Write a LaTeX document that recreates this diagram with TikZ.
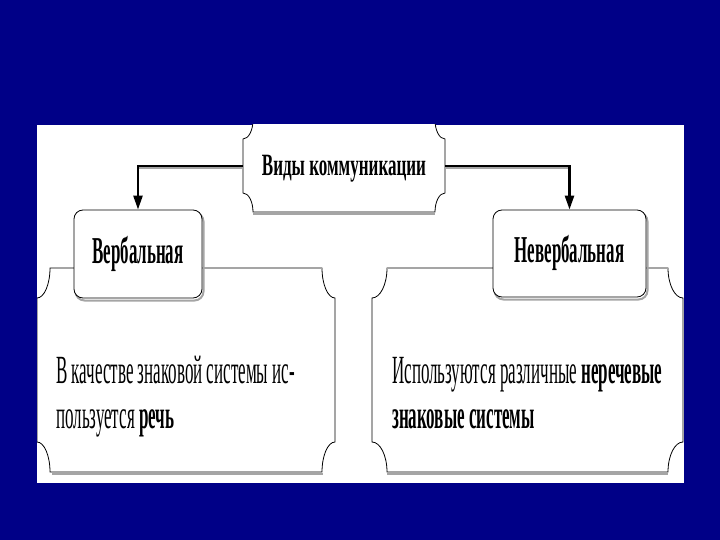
\documentclass[tikz,border=0pt]{standalone}
\usepackage{fontspec}
\setmainfont{Liberation Serif}
\newfontfamily\bodyf[FakeStretch=0.425]{Liberation Serif}
\newfontfamily\boxf[FakeStretch=0.445]{Liberation Serif}
\newfontfamily\headf[FakeStretch=0.55]{Liberation Serif}
\usetikzlibrary{arrows.meta}
\definecolor{navy}{RGB}{0,0,135}
\definecolor{shade}{RGB}{165,165,165}
% #1 options, #2 x0, #3 y0, #4 x1, #5 y1, #6 rx, #7 ry
\newcommand\plaque[7]{\draw[#1] (#2+#6,#3) -- (#4-#6,#3) .. controls (#4-#6,#3+0.55*#7) and (#4-0.55*#6,#3+#7) .. (#4,#3+#7) -- (#4,#5-#7) .. controls (#4-0.55*#6,#5-#7) and (#4-#6,#5-0.55*#7) .. (#4-#6,#5) -- (#2+#6,#5) .. controls (#2+#6,#5-0.55*#7) and (#2+0.55*#6,#5-#7) .. (#2,#5-#7) -- (#2,#3+#7) .. controls (#2+0.55*#6,#3+#7) and (#2+#6,#3+0.55*#7) .. cycle;}
\tikzset{
  outline/.style={draw=black, fill=white, line width=0.8pt},
  shadowline/.style={draw=shade, line width=2.5pt},
  hbox/.style={inner sep=0pt, minimum width=202pt, minimum height=92pt, text height=20pt, text depth=0pt, font=\headf\bfseries\fontsize{31}{31}\selectfont},
  lbox/.style={draw=black, fill=white, line width=0.8pt, rounded corners=9pt, inner sep=0pt, text height=25pt, text depth=7pt, font=\boxf\bfseries\fontsize{38}{38}\selectfont},
  lshadow/.style={draw=shade, line width=2pt, rounded corners=9pt},
  body/.style={inner sep=0pt, anchor=base west, font=\bodyf\fontsize{40}{40}\selectfont},
  conn/.style={draw=black, line width=2.5pt, -{Triangle[length=14pt,width=9pt]}},
}
\begin{document}
\begin{tikzpicture}[x=1pt,y=-1pt]
\useasboundingbox (0,0) rectangle (720,540);
\fill[navy] (0,0) rectangle (720,540);
\fill[white] (37,125) rectangle (684,483);
\begin{scope}
\clip (37,125) rectangle (684,483);
% big plaques
\draw[shadowline] (52,474) -- (323,474);
\plaque{outline}{37}{268}{335}{472}{13}{30}
\draw[shadowline] (52,268) -- (322,268);
\draw[shadowline] (387,474) -- (668,474);
\plaque{outline}{372}{268}{683}{472}{15}{30}
\draw[shadowline] (387,268) -- (668,268);
% top plaque
\draw[shadowline] (253,214) -- (435,214);
\plaque{outline}{243}{120}{445}{212}{10}{19}
\node[hbox] (top) at (344,166) {Виды коммуникации};
% small boxes
\draw[lshadow] (75.5,212.5) rectangle (203.5,300.5);
\node[lbox, minimum width=128pt, minimum height=88pt] (verb) at (138,254) {Вербальная};
\draw[lshadow] (494.5,212.5) rectangle (647.5,299.5);
\node[lbox, minimum width=153pt, minimum height=87pt] (nverb) at (569.5,253.5) {Невербальная};
% connectors
\draw[draw=shade, line width=2pt] ([shift={(0,2.5)}]top.west) -- ([shift={(1,2.5)}]top.west -| verb.north);
\draw[draw=shade, line width=2pt] ([shift={(0,2.5)}]top.east) -- ([shift={(1,2.5)}]top.east -| nverb.north);
\draw[conn] (top.west) -| (verb.north);
\draw[conn] (top.east) -| (nverb.north);
% body texts
\node[body] (v1) at (56,383) {В качестве знаковой системы ис-};
\node[body] (v2) at (56,428) {пользуется \textbf{речь}};
\node[body] (n1) at (392,383) {Используются различные \textbf{неречевые}};
\node[body] (n2) at (392,428) {\textbf{знаковые системы}};
\end{scope}
\end{tikzpicture}
\end{document}
